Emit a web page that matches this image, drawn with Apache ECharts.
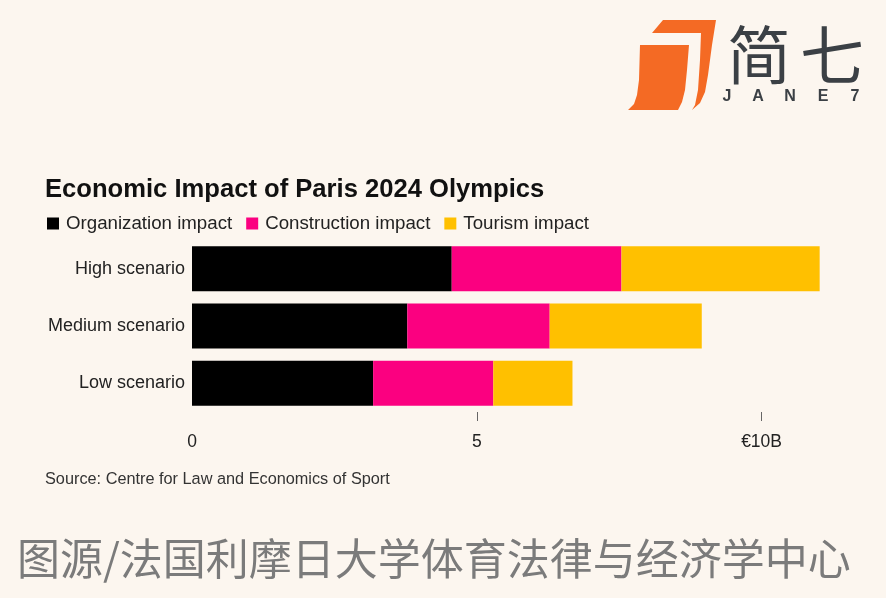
<!DOCTYPE html>
<html>
<head>
<meta charset="utf-8">
<script src="https://cdn.jsdelivr.net/npm/echarts@6/dist/echarts.min.js"></script>
<style>
  html, body { margin: 0; padding: 0; background: #fcf6ef; }
  #chart { width: 886px; height: 598px; }
</style>
</head>
<body>
<div id="chart"></div>
<script>
// scenarios, top to bottom
var scenarios = ['High scenario', 'Medium scenario', 'Low scenario'];
// € billions
var organization = [4.56, 3.78, 3.18];
var construction = [2.98, 2.50, 2.11];
var tourism = [3.48, 2.67, 1.39];
var tickValues = [5, 10];
var labelValues = [0, 5, 10];

var bg = '#fcf6ef';
var orange = '#f46a24';
var ink = '#3b4045';
var font = '"Liberation Sans", Arial, sans-serif';
var cjk = '"Noto Sans CJK SC", sans-serif';

var chart = echarts.init(document.getElementById('chart'));

function bar(name, data, color) {
    return {
        name: name,
        type: 'bar',
        stack: 'total',
        data: data,
        barWidth: 45,
        itemStyle: { color: color },
        emphasis: { disabled: true }
    };
}

// JANE7 spelled out letter by letter (wide spacing)
var janeLetters = ['J', 'A', 'N', 'E', '7'];
var janeX = [727, 758, 790, 823, 855];
var janeText = janeLetters.map(function (ch, i) {
    return {
        type: 'text', x: janeX[i], y: 97,
        style: {
            text: ch, fill: ink, font: 'bold 16px ' + font,
            align: 'center', verticalAlign: 'middle'
        }
    };
});

var option = {
    backgroundColor: bg,
    animation: false,
    title: {
        text: 'Economic Impact of Paris 2024 Olympics',
        left: 40, top: 172,
        textStyle: { fontSize: 25.6, fontWeight: 'bold', color: '#111', fontFamily: font }
    },
    legend: {
        left: 42, top: 209,
        icon: 'rect', itemWidth: 12, itemHeight: 12, itemGap: 14,
        textStyle: { fontSize: 18.7, color: '#222', fontFamily: font, padding: [0, 0, 0, 2] },
        data: ['Organization impact', 'Construction impact', 'Tourism impact']
    },
    grid: { left: 192, right: 39, top: 240, height: 172 },
    xAxis: {
        type: 'value', min: 0, max: 11.5, interval: 5,
        splitLine: { show: false },
        axisLine: { show: false },
        axisTick: {
            show: true, length: 9, customValues: tickValues,
            lineStyle: { color: '#666', width: 1 }
        },
        axisLabel: {
            customValues: labelValues, margin: 21,
            fontSize: 17.5, color: '#222', fontFamily: font,
            formatter: function (v) { return v === 10 ? '€10B' : String(v); }
        }
    },
    yAxis: {
        type: 'category', data: scenarios, inverse: true,
        axisLine: { show: false }, axisTick: { show: false },
        axisLabel: { margin: 7, fontSize: 18, color: '#222', fontFamily: font }
    },
    series: [
        bar('Organization impact', organization, '#000000'),
        bar('Construction impact', construction, '#fb0080'),
        bar('Tourism impact', tourism, '#ffc000')
    ],
    graphic: [
        // logo: back page then front page
        {
            type: 'polygon',
            shape: { points: [[663, 20], [716, 20], [712, 45], [708, 75], [705, 92], [700, 103], [692, 110],
                [695, 105], [698, 90], [700, 60], [701, 33], [652, 33]] },
            style: { fill: orange }
        },
        {
            type: 'polygon',
            shape: { points: [[640, 45], [689, 45], [687, 70], [685, 90], [682, 102], [678, 110],
                [628, 110], [634, 104], [637, 95], [639, 80]] },
            style: { fill: orange }
        },
        {
            type: 'text', x: 727, y: 55,
            style: { text: '简', fill: ink, font: '64px ' + cjk, verticalAlign: 'middle' }
        },
        {
            type: 'text', x: 800, y: 55,
            style: { text: '七', fill: ink, font: '64px ' + cjk, verticalAlign: 'middle' }
        }
    ].concat(janeText).concat([
        {
            type: 'text', left: 45, top: 472,
            style: { text: 'Source: Centre for Law and Economics of Sport', fill: '#333', font: '16.3px ' + font }
        },
        {
            type: 'text', left: 17, top: 537,
            style: { text: '图源/法国利摩日大学体育法律与经济学中心', fill: '#7b7b7b', font: '43px ' + cjk }
        }
    ])
};

chart.setOption(option);
</script>
</body>
</html>
